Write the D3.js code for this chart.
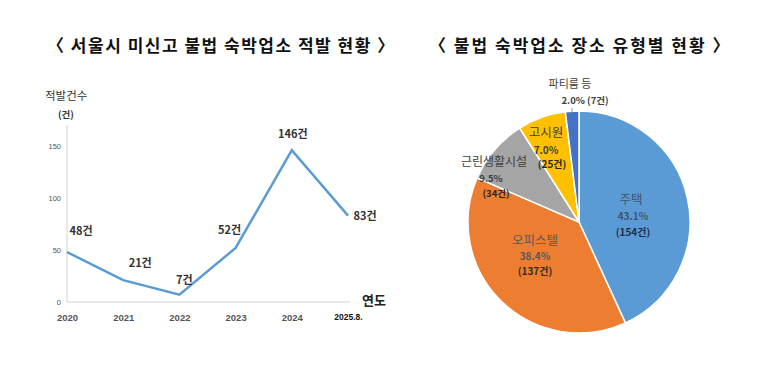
<!DOCTYPE html>
<html><head><meta charset="utf-8">
<script src="https://cdn.jsdelivr.net/npm/d3@7"></script>
<style>body{margin:0;background:#fff}svg{display:block;font-family:"Noto Sans CJK KR","Noto Sans",sans-serif}</style>
</head><body><svg id="c" width="780" height="372"></svg>
<script>
const years = ["2020","2021","2022","2023","2024","2025.8."];
const counts = [48,21,7,52,146,83];
const yTicks = [0,50,100,150];
const pieCats = ["주택","오피스텔","근린생활시설","고시원","파티룸 등"];
const pieCounts = [154,137,34,25,7];
const piePct = ["43.1%","38.4%","9.5%","7.0%","2.0%"];
const pieColors = ["#5b9bd5","#ed7d31","#a5a5a5","#ffc000","#4472c4"];

const svg = d3.select("#c");
// titles
svg.append("text").attr("x",47).attr("y",52).attr("font-size",17).attr("font-weight","bold").attr("letter-spacing",1.5).attr("fill","#111").text("〈 서울시 미신고 불법 숙박업소 적발 현황 〉");
svg.append("text").attr("x",429).attr("y",52).attr("font-size",17).attr("font-weight","bold").attr("letter-spacing",2.0).attr("fill","#111").text("〈 불법 숙박업소 장소 유형별 현황 〉");

// line chart
const x = d3.scalePoint().domain(years).range([67,348]);
const y = d3.scaleLinear().domain([0,150]).range([302,146]);
const g = svg.append("g");
g.append("line").attr("x1",67).attr("x2",67).attr("y1",125).attr("y2",302).attr("stroke","#e0e0e0").attr("stroke-width",1.5);
g.append("line").attr("x1",67).attr("x2",350).attr("y1",302).attr("y2",302).attr("stroke","#e0e0e0").attr("stroke-width",1.5);
const yAx = g.append("g").attr("transform","translate(67,0)").call(d3.axisLeft(y).tickValues(yTicks).tickSize(0).tickPadding(6));
yAx.select(".domain").remove();
yAx.selectAll("text").attr("font-size",7.5).attr("fill","#555").attr("font-family","Liberation Sans, sans-serif");
const xAx = g.append("g").attr("transform","translate(0,302)").call(d3.axisBottom(x).tickSize(0).tickPadding(12));
xAx.select(".domain").remove();
xAx.selectAll("text").attr("font-size",d=>d==="2025.8."?8.5:9.5).attr("font-weight","bold").attr("fill",d=>d==="2025.8."?"#111":"#555").attr("font-family","Liberation Sans, sans-serif");
g.append("path").datum(counts).attr("fill","none").attr("stroke","#5b9bd5").attr("stroke-width",2.5)
 .attr("d",d3.line().x((d,i)=>x(years[i])).y(d=>y(d)));
const lblOff = [[14,-17],[17,-13],[5,-11],[-6,-14],[1,-12],[17,4]];
g.selectAll(".dl").data(counts).join("text").attr("class","dl")
 .attr("x",(d,i)=>x(years[i])+lblOff[i][0]).attr("y",(d,i)=>y(d)+lblOff[i][1])
 .attr("text-anchor","middle").attr("font-size",11).attr("font-weight","bold").attr("fill","#333").text(d=>d+"건");
g.append("text").attr("x",45).attr("y",100).attr("font-size",11.5).attr("fill","#333").text("적발건수");
g.append("text").attr("x",58).attr("y",118).attr("font-size",9.5).attr("font-weight","bold").attr("fill","#333").text("(건)");
g.append("text").attr("x",362).attr("y",305).attr("font-size",13).attr("font-weight","bold").attr("fill","#222").text("연도");

// pie
const cx=579, cy=222, r=111;
const pg = svg.append("g").attr("transform",`translate(${cx},${cy})`);
const pie = d3.pie().sort(null).value(d=>d)(pieCounts);
const arc = d3.arc().innerRadius(0).outerRadius(r);
pg.selectAll("path").data(pie).join("path").attr("d",arc).attr("fill",(d,i)=>pieColors[i]).attr("stroke","#fff").attr("stroke-width",1.5);
// label layout: [name dx, name dy(baseline), pct dx, pct dy, count dx, count dy]
const lab = [
 [52,-18, 54,-2, 54,14],
 [-44,23, -44,38, -44,53],
 [-85,-56, -88,-40, -83,-25],
 [-33,-85, -33,-68, -27,-54]
];
const nameCol = ["#44546a","#595959","#404040","#404040"];
const pctCol  = ["#44546a","#595959","#404040","#404040"];
const cntCol  = ["#1f2d4a","#3a2a1a","#262626","#262626"];
pieCats.forEach((name,i)=>{
  if(i===4){
    pg.append("text").attr("x",-9).attr("y",-134).attr("text-anchor","middle").attr("font-size",11).attr("fill","#404040").text(name);
    pg.append("text").attr("x",6).attr("y",-118).attr("text-anchor","middle").attr("font-size",9.5).attr("font-weight","bold").attr("fill","#404040").text(piePct[i]+" ("+pieCounts[i]+"건)");
    return;
  }
  const L = lab[i];
  pg.append("text").attr("x",L[0]).attr("y",L[1]).attr("text-anchor","middle").attr("font-size",i===2?12:12.5).attr("fill",nameCol[i]).text(name);
  pg.append("text").attr("x",L[2]).attr("y",L[3]).attr("text-anchor","middle").attr("font-size",i===2?9.5:10).attr("font-weight","bold").attr("fill",pctCol[i]).text(piePct[i]);
  pg.append("text").attr("x",L[4]).attr("y",L[5]).attr("text-anchor","middle").attr("font-size",i===2?9.5:10).attr("font-weight","bold").attr("fill",cntCol[i]).text("("+pieCounts[i]+"건)");
});
// leader line for 파티룸
pg.append("line").attr("x1",-7).attr("x2",-7).attr("y1",-114).attr("y2",-109).attr("stroke","#999").attr("stroke-width",1);
</script></body></html>
